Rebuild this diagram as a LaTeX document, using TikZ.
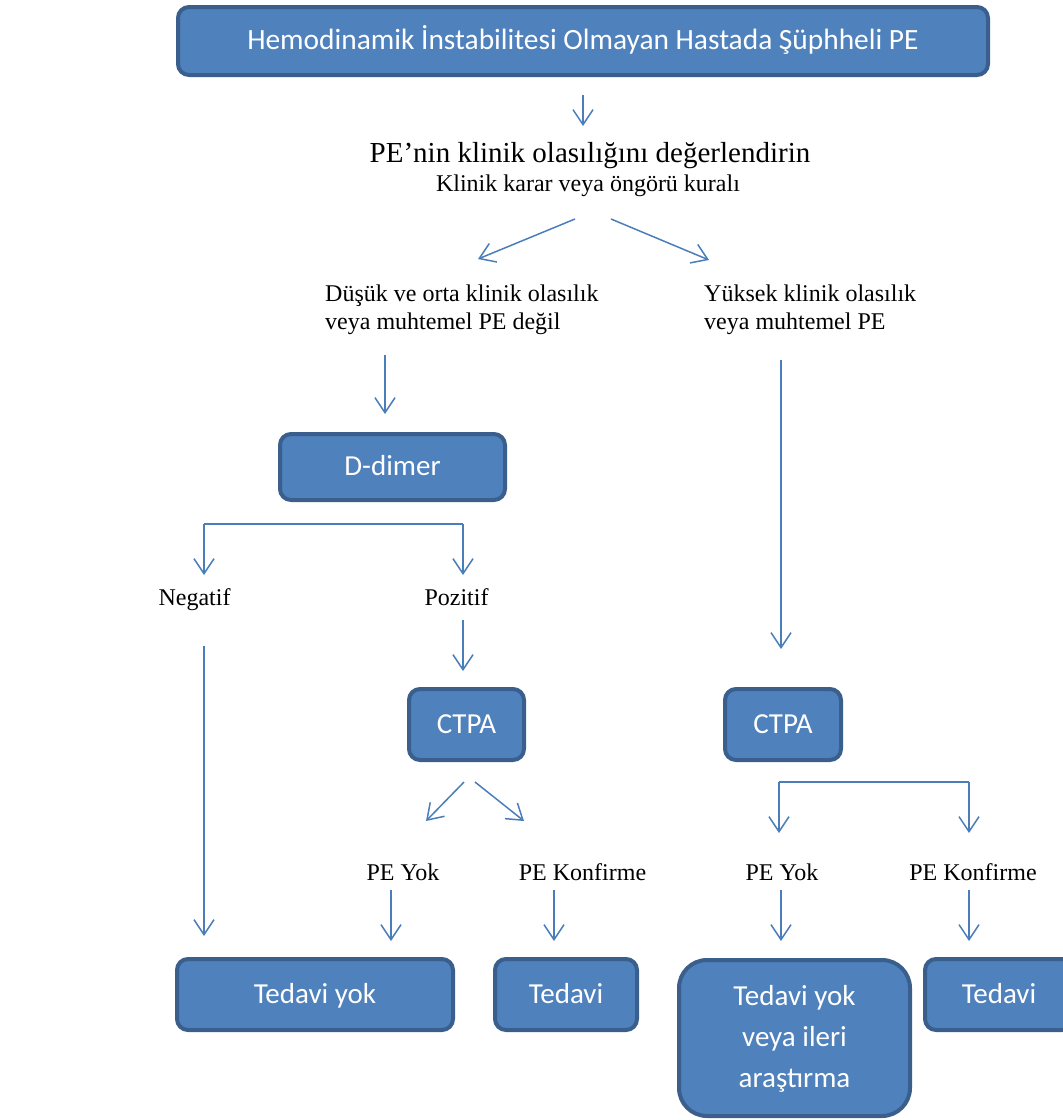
\documentclass[tikz,border=0pt]{standalone}
\usepackage{fontspec}
\setmainfont{Liberation Serif}
\newfontfamily\boxfont{Carlito}
\usetikzlibrary{arrows.meta}
\definecolor{boxfill}{HTML}{4F81BD}
\definecolor{boxline}{HTML}{3A5F8C}
\definecolor{arrcol}{HTML}{4A7EBB}
\tikzset{
  box/.style={draw=boxline, fill=boxfill, line width=4pt, rounded corners=11pt,
    text=white, font=\boxfont\fontsize{29}{41}\selectfont, inner sep=0pt, align=center},
  oneline/.style={text height=21pt, text depth=4pt},
  lbl/.style={font=\fontsize{24}{28}\selectfont, inner sep=0pt},
  arr/.style={draw=arrcol, line width=1.5pt,
    -{Straight Barb[length=15pt,width=20pt]}},
  ln/.style={draw=arrcol, line width=1.5pt},
}
\begin{document}
\begin{tikzpicture}[x=1pt,y=-1pt]
\useasboundingbox (0,0) rectangle (1063,1120);
\clip (0,0) rectangle (1063,1120);

% boxes
\node[box, oneline, minimum width=810pt, minimum height=68pt,
  font=\boxfont\fontsize{29.4}{41}\selectfont] (title) at (583,41)
  {Hemodinamik İnstabilitesi Olmayan Hastada Şüphheli PE};
\node[box, oneline, minimum width=225pt, minimum height=66pt] (dd) at (392.5,467) {D-dimer};
\node[box, oneline, minimum width=115pt, minimum height=71pt] (ctpaL) at (466.5,724.5) {CTPA};
\node[box, oneline, minimum width=116pt, minimum height=71pt] (ctpaR) at (783,724.5) {CTPA};
\node[box, oneline, minimum width=276pt, minimum height=71pt] (tyL) at (315,994.5) {Tedavi yok};
\node[box, oneline, minimum width=142pt, minimum height=71pt] (tL) at (566,994.5) {Tedavi};
\node[box, minimum width=231pt, minimum height=156pt, rounded corners=28pt] (tyR) at (794.5,1038)
  {\raisebox{-5pt}{\begin{tabular}{@{}c@{}}Tedavi yok\\veya ileri\\araştırma\end{tabular}}};
\node[box, oneline, minimum width=148pt, minimum height=71pt] (tR) at (999,994.5) {Tedavi};

% labels
\node[font=\fontsize{29}{34}\selectfont, inner sep=0pt, anchor=base] (q1) at (590,162)
  {PE’nin klinik olasılığını değerlendirin};
\node[lbl, anchor=base] (q2) at (588,191) {Klinik karar veya öngörü kuralı};
\node[lbl, anchor=base west] (lo1) at (325,301) {Düşük ve orta klinik olasılık};
\node[lbl, anchor=base west] (lo2) at (325,329) {veya muhtemel PE değil};
\node[lbl, anchor=base west] (hi1) at (704,301) {Yüksek klinik olasılık};
\node[lbl, anchor=base west] (hi2) at (704,329) {veya muhtemel PE};
\node[lbl, anchor=base] (neg) at (194.5,605) {Negatif};
\node[lbl, anchor=base] (pos) at (456.5,605) {Pozitif};
\node[lbl, anchor=base] (pyL) at (403,880) {PE Yok};
\node[lbl, anchor=base] (pkL) at (582.5,880) {PE Konfirme};
\node[lbl, anchor=base] (pyR) at (782,880) {PE Yok};
\node[lbl, anchor=base] (pkR) at (973,880) {PE Konfirme};

% connector end points
\coordinate (a1s) at (583,95);   \coordinate (a1e) at (583,126);
\coordinate (a2s) at (575,219);  \coordinate (a2e) at (478,259);
\coordinate (a3s) at (611,219);  \coordinate (a3e) at (709,260);
\coordinate (a4s) at (385,355);  \coordinate (a4e) at (385,414);
\coordinate (a5s) at (781,360);  \coordinate (a5e) at (781,649);
\coordinate (bL) at (204,524);   \coordinate (bR) at (463,524);
\coordinate (bLe) at (204,575);  \coordinate (bRe) at (463,575);
\coordinate (a6s) at (204,646);  \coordinate (a6e) at (204,936);
\coordinate (a7s) at (463,620);  \coordinate (a7e) at (463,671);
\coordinate (a8s) at (464,782);  \coordinate (a8e) at (426,821);
\coordinate (a9s) at (475,782);  \coordinate (a9e) at (524,821);
\coordinate (a10s) at (391,890); \coordinate (a10e) at (391,941);
\coordinate (a11s) at (554,890); \coordinate (a11e) at (554,941);
\coordinate (cL) at (779,782);   \coordinate (cR) at (969,782);
\coordinate (cLe) at (779,833);  \coordinate (cRe) at (969,833);
\coordinate (a12s) at (781,890); \coordinate (a12e) at (781,941);
\coordinate (a13s) at (969,890); \coordinate (a13e) at (969,941);

% connectors
\draw[arr] (a1s) -- (a1e);
\draw[arr] (a2s) -- (a2e);
\draw[arr] (a3s) -- (a3e);
\draw[arr] (a4s) -- (a4e);
\draw[arr] (a5s) -- (a5e);
\draw[ln] (bL) -- (bR);
\draw[arr] (bL) -- (bLe);
\draw[arr] (bR) -- (bRe);
\draw[arr] (a6s) -- (a6e);
\draw[arr] (a7s) -- (a7e);
\draw[arr] (a8s) -- (a8e);
\draw[arr] (a9s) -- (a9e);
\draw[arr] (a10s) -- (a10e);
\draw[arr] (a11s) -- (a11e);
\draw[ln] (cL) -- (cR);
\draw[arr] (cL) -- (cLe);
\draw[arr] (cR) -- (cRe);
\draw[arr] (a12s) -- (a12e);
\draw[arr] (a13s) -- (a13e);
\end{tikzpicture}
\end{document}
